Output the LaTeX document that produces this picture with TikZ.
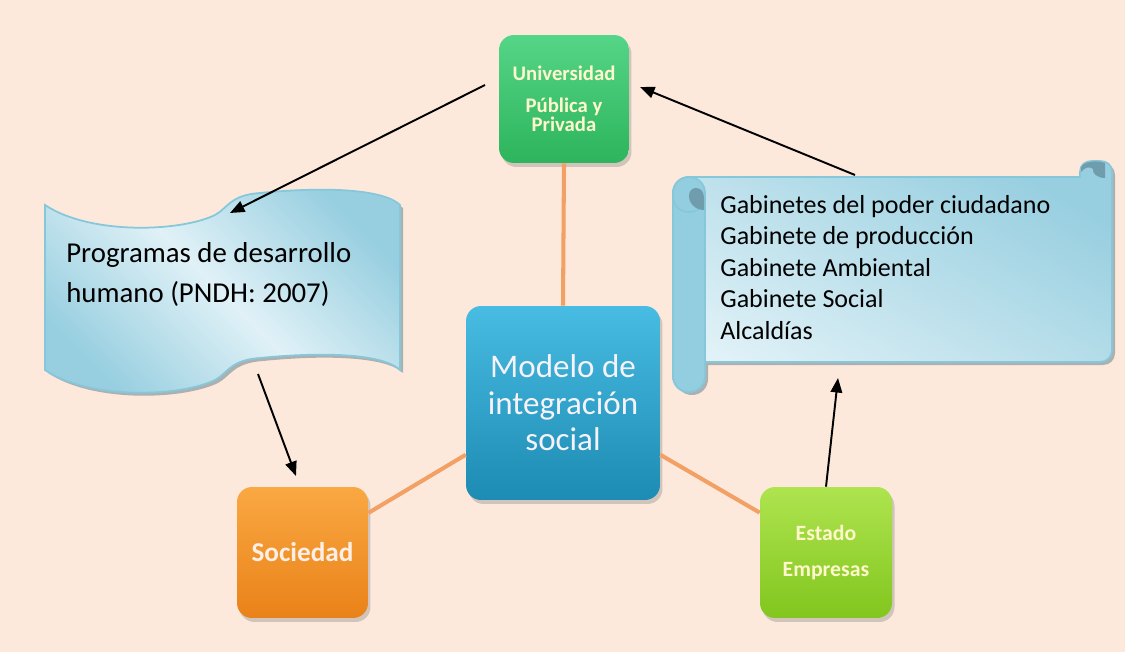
\documentclass[tikz,border=0pt]{standalone}
\usepackage{fontspec}
\setmainfont{Carlito}
\usetikzlibrary{arrows.meta, shadows}
\definecolor{fondo}{HTML}{FCE9DC}
\definecolor{verdeA}{HTML}{55D587}
\definecolor{verdeB}{HTML}{2DB45C}
\definecolor{azulA}{HTML}{48BCE2}
\definecolor{azulB}{HTML}{1D8BB3}
\definecolor{naranjaA}{HTML}{FAA843}
\definecolor{naranjaB}{HTML}{E98218}
\definecolor{limaA}{HTML}{AEE44F}
\definecolor{limaB}{HTML}{82C61E}
\definecolor{enlace}{HTML}{F2A064}
\definecolor{celesteA}{HTML}{98CFE0}
\definecolor{celesteB}{HTML}{E0F1F7}
\definecolor{borde}{HTML}{86C7DA}
\definecolor{rollo}{HTML}{93CEE0}
\definecolor{rizo}{HTML}{6F9DAD}
\definecolor{sombra}{HTML}{9AA2A4}
\definecolor{letraclara}{HTML}{FFF7CC}
\definecolor{letrablanca}{HTML}{F6F2F8}
\definecolor{letrasoc}{HTML}{FFEFE6}
\newcommand{\flecha}{\draw[line width=1.1pt,->]}
\newcommand{\uniones}{\draw[line width=2.3pt, color=enlace]}
\tikzset{caja/.style={rounded corners=3mm, minimum width=2.62cm, minimum height=2.62cm,
  align=center, inner sep=0pt,
  drop shadow={shadow xshift=0.5mm, shadow yshift=-0.8mm, opacity=0.35}}}

\begin{document}
\begin{tikzpicture}[>={Triangle[length=2.9mm, width=2.3mm]}, x=0.02cm, y=-0.02cm]
\fill[fondo] (0,0) rectangle (1125,652);
\useasboundingbox (0,0) rectangle (1125,652);

% Bandera de la izquierda
\draw[draw=borde, line width=1pt, top color=celesteA, bottom color=celesteA, middle color=celesteB, shading angle=-45,
  drop shadow={shadow xshift=0.6mm, shadow yshift=-0.6mm, fill=sombra, opacity=0.8}]
  (45,205) .. controls (90,235) and (180,232) .. (215,215)
  .. controls (228,208) and (230,195) .. (260,193)
  .. controls (330,186) and (385,190) .. (400,205)
  -- (400,370)
  .. controls (385,355) and (330,351) .. (260,358)
  .. controls (230,360) and (228,373) .. (215,380)
  .. controls (180,397) and (90,400) .. (45,370) -- cycle;
\node[anchor=north west, align=left, inner sep=0pt, font=\fontsize{16.4}{22.7}\selectfont] (prog) at (66,242)
  {Programas de desarrollo\\humano (PNDH: 2007)};

% Pergamino de la derecha
\draw[draw=borde, line width=1pt, top color=celesteA, bottom color=celesteB, shading angle=-30,
  drop shadow={shadow xshift=0.6mm, shadow yshift=-0.6mm, fill=sombra, opacity=0.8}]
  (689,177) -- (1080,177) -- (1080,172) .. controls (1080,165) and (1085,161) .. (1092,161)
  -- (1100,161) .. controls (1107,161) and (1112,165) .. (1112,172)
  -- (1112,350) .. controls (1112,357) and (1107,362) .. (1100,362)
  -- (705,362) -- (705,376) .. controls (705,385) and (698,392) .. (689,392)
  .. controls (680,392) and (673,385) .. (673,376)
  -- (673,193) .. controls (673,184) and (680,177) .. (689,177) -- cycle;
\draw[draw=borde, line width=1pt, fill=rollo]
  (705,193) -- (705,376) .. controls (705,385) and (698,392) .. (689,392)
  .. controls (680,392) and (673,385) .. (673,376)
  -- (673,193) .. controls (673,184) and (680,177) .. (689,177)
  .. controls (698,177) and (705,184) .. (705,193) -- cycle;
\draw[draw=borde, line width=1pt] (673,196) .. controls (673,206) and (680,212) .. (689,212)
  .. controls (698,212) and (703,206) .. (703,200);
\fill[rizo] (696,188) .. controls (701,188) and (704,192) .. (704,198) -- (704,210)
  .. controls (697,210) and (689,205) .. (689,196) .. controls (689,191) and (692,188) .. (696,188) -- cycle;
\fill[rizo] (1081,168) .. controls (1082,161) and (1098,160) .. (1105,163) -- (1105,178)
  .. controls (1097,178) and (1092,173) .. (1093,169) .. controls (1089,166) and (1085,167) .. (1081,172) -- cycle;
\node[anchor=north west, align=left, inner sep=0pt, font=\fontsize{14.8}{17.9}\selectfont] (gab) at (720,195)
  {Gabinetes del poder ciudadano\\Gabinete de producción\\Gabinete Ambiental\\Gabinete Social\\Alcaldías};

% Cajas
\node[caja, minimum width=3.88cm, minimum height=3.88cm, top color=azulA, bottom color=azulB,
  text=letrablanca, font=\fontsize{18.8}{20.8}\selectfont] (modelo) at (563,403)
  {Modelo de\\integración\\social};
\node[caja, minimum width=2.6cm, minimum height=2.56cm, top color=verdeA, bottom color=verdeB,
  text=letraclara, font=\fontsize{11.8}{11}\selectfont\bfseries] (uni) at (564,99)
  {Universidad\\[7pt]Pública y\\Privada};
\node[caja, top color=naranjaA, bottom color=naranjaB, text=letrasoc,
  font=\fontsize{15.5}{18}\selectfont\bfseries] (soc) at (302.5,552.5)
  {Sociedad};
\node[caja, minimum width=2.64cm, top color=limaA, bottom color=limaB, text=letraclara,
  font=\fontsize{12.4}{20.4}\selectfont\bfseries] (est) at (826,552.5)
  {Estado\\Empresas};

% Lineas naranjas
\uniones (uni.south) -- (modelo.north);
\uniones (modelo.208) -- (soc.31);
\uniones (modelo.332) -- (est.149);

% Flechas
\coordinate (f1) at (485,85);
\coordinate (f1fin) at (230,213);
\coordinate (f2) at (855,175);
\coordinate (f2fin) at (640,87);
\coordinate (f3) at (258,374);
\coordinate (f3fin) at (296,476);
\coordinate (f4fin) at (838,378);
\flecha (f1) -- (f1fin);
\flecha (f2) -- (f2fin);
\flecha (f3) -- (f3fin);
\flecha (est.north) -- (f4fin);
\end{tikzpicture}
\end{document}
